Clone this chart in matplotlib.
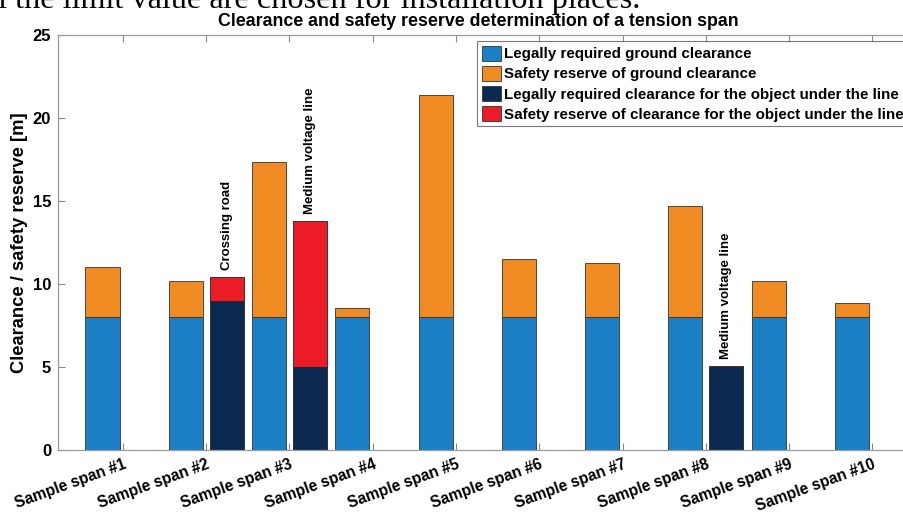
import matplotlib
matplotlib.use("Agg")
import matplotlib.pyplot as plt
from matplotlib.patches import Patch
import numpy as np

plt.rcParams['font.family'] = ['Liberation Sans', 'DejaVu Sans']

categories = ["Sample span #1", "Sample span #2", "Sample span #3", "Sample span #4",
              "Sample span #5", "Sample span #6", "Sample span #7", "Sample span #8",
              "Sample span #9", "Sample span #10"]
ground_required = [8, 8, 8, 8, 8, 8, 8, 8, 8, 8]
ground_reserve = [3.05, 2.18, 9.33, 0.55, 13.4, 3.5, 3.27, 6.67, 2.2, 0.87]
object_required = [0, 9, 5, 0, 0, 0, 0, 5, 0, 0]
object_reserve = [0, 1.42, 8.8, 0, 0, 0, 0, 0.06, 0, 0]
object_labels = ["", "Crossing road", "Medium voltage line", "", "", "", "", "Medium voltage line", "", ""]
legend_labels = ["Legally required ground clearance", "Safety reserve of ground clearance",
                 "Legally required clearance for the object under the line",
                 "Safety reserve of clearance for the object under the line"]

c_blue = "#1a7fc4"
c_orange = "#f08a22"
c_navy = "#0b2a52"
c_red = "#ec1c26"

fig = plt.figure(figsize=(9.04, 5.13), dpi=100)
ax = fig.add_axes([58/904, 1-450/513, (914-58)/904, (450-35)/513])

x = np.arange(1, len(categories) + 1)
w = 0.41
off = 0.245
ax.bar(x - off, ground_required, w, color=c_blue, edgecolor="#333333", linewidth=0.6)
ax.bar(x - off, ground_reserve, w, bottom=ground_required, color=c_orange, edgecolor="#333333", linewidth=0.6)
mask = np.array(object_required) > 0
ax.bar(x[mask] + off, np.array(object_required)[mask], w, color=c_navy, edgecolor="#222222", linewidth=0.6)
ax.bar(x[mask] + off, np.array(object_reserve)[mask], w, bottom=np.array(object_required)[mask],
       color=c_red, edgecolor="#222222", linewidth=0.6)

for xi, req, res, lab in zip(x, object_required, object_reserve, object_labels):
    if lab:
        ax.text(xi + off, req + res + 0.4, lab, rotation=90, ha="center", va="bottom",
                fontsize=9.5, fontweight="bold")

ax.set_xlim(0.22, 10.5)
ax.set_ylim(0, 25)
ax.set_yticks([0, 5, 10, 15, 20, 25])
ax.set_xticks(x)
ax.set_xticklabels(categories, rotation=20, ha="right", rotation_mode="anchor",
                   fontsize=11.2, fontweight="bold")
for t in ax.get_yticklabels():
    t.set_fontweight("bold")
    t.set_fontsize(12)
ax.tick_params(axis="both", direction="in", top=True, right=True, length=5, color="#888888", width=0.8)
ax.tick_params(axis="x", pad=5)
ax.tick_params(axis="y", pad=5)
for s in ax.spines.values():
    s.set_color("#9a9a9a")
    s.set_linewidth(0.9)
ax.set_ylabel("Clearance / safety reserve [m]", fontsize=13.2, fontweight="bold", labelpad=3)
fig.text(478/904, 1-26/513, "Clearance and safety reserve determination of a tension span",
         ha="center", va="baseline", fontsize=12.8, fontweight="bold")

handles = [Patch(facecolor=c, edgecolor="#333333", linewidth=0.6) for c in [c_blue, c_orange, c_navy, c_red]]
leg = ax.legend(handles, legend_labels, loc="upper left", bbox_to_anchor=(477/904, 1-41/513),
                bbox_transform=fig.transFigure, frameon=True, fancybox=False,
                prop={'weight': 'bold', 'size': 10.9},
                handlelength=1.3, handleheight=1.15, handletextpad=0.2, labelspacing=0.3,
                borderpad=0.3, borderaxespad=0)
leg.get_frame().set_edgecolor("#555555")
leg.get_frame().set_linewidth(0.8)

fig.text(-25/904, 1-8/513, "all the limit value are chosen for installation places.",
         ha="left", va="baseline", fontsize=23.2, family=['Liberation Serif', 'DejaVu Serif'])

fig.savefig("out.png", dpi=100)
